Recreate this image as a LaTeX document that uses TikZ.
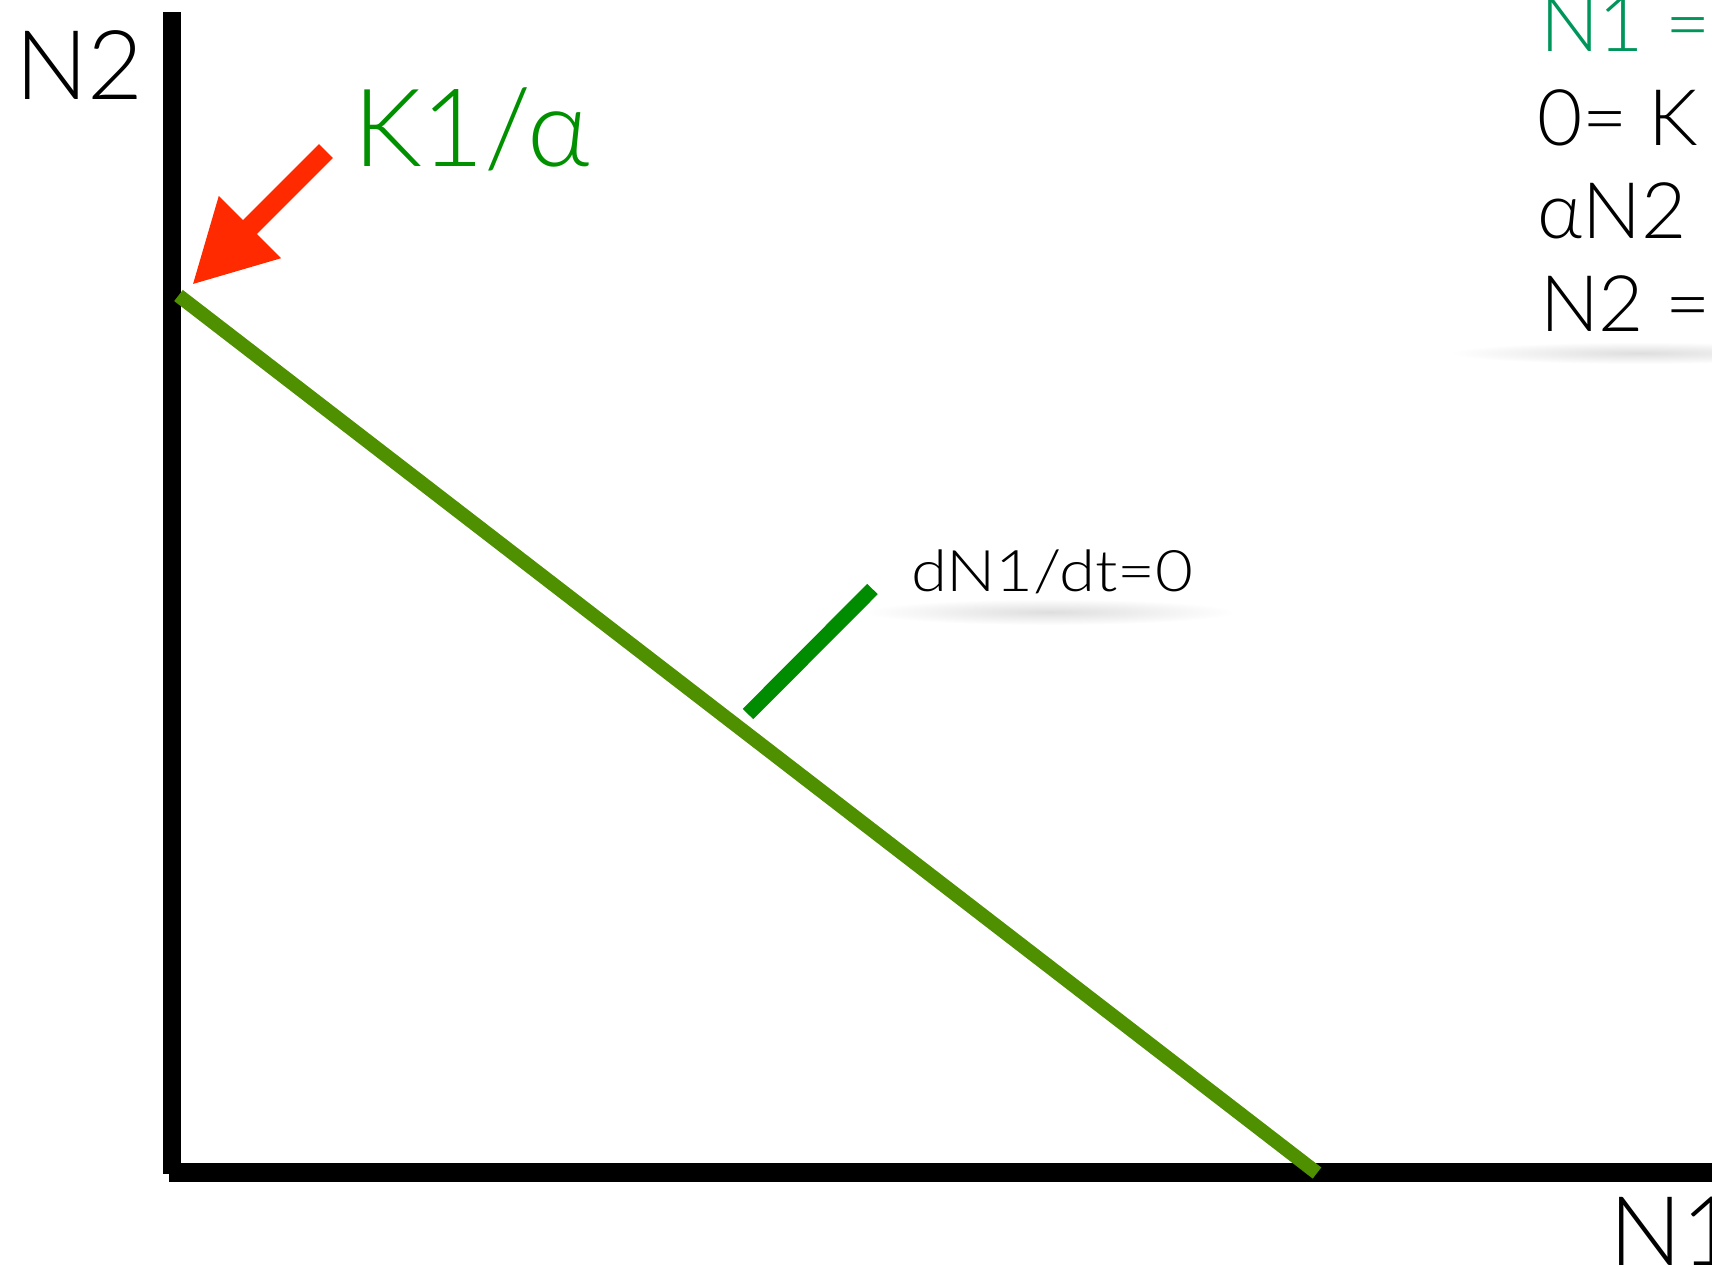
\documentclass[tikz,border=0pt]{standalone}
\usepackage{fontspec}
\setmainfont{Lato}[UprightFont={* Light}]
\usetikzlibrary{arrows.meta}

\definecolor{axisblack}{HTML}{000000}
\definecolor{clinegreen}{HTML}{4E9000}
\definecolor{tickgreen}{HTML}{008C00}
\definecolor{labelgreen}{HTML}{009000}
\definecolor{eqgreen}{HTML}{00955A}
\definecolor{pointred}{HTML}{FF2A00}

\begin{document}
\begin{tikzpicture}[
    x=0.01cm, y=-0.01cm,
    % All text labels sit on their baseline
    lbl/.style={anchor=base west, inner sep=0pt, outer sep=0pt},
    axlbl/.style={lbl, font=\fontsize{27.4pt}{30pt}\selectfont},
    keylbl/.style={lbl, font=\fontsize{30.8pt}{34pt}\selectfont, text=labelgreen},
    linelbl/.style={lbl, font=\fontsize{16.3pt}{19pt}\selectfont\addfontfeatures{FakeStretch=1.14}},
    eqlbl/.style={lbl, font=\fontsize{22.2pt}{26pt}\selectfont},
    % Lines
    axis/.style={draw=axisblack, line width=5.2pt},
    isocline/.style={draw=clinegreen, line width=4.0pt},
    tick/.style={draw=tickgreen, line width=4.2pt},
    pointer/.style={draw=pointred, fill=pointred, line width=5.6pt,
                    -{Triangle[length=23.3pt, width=23.3pt]}},
    % Soft shadow under a text block
    glow/.style={inner color=black!13, outer color=white},
]

% Canvas 1712 x 1266 px, 1 unit = 1 px, y grows downwards
\useasboundingbox (0,0) rectangle (1712,1266);

%% ── Axes ──
\coordinate (ytop)   at (172, 12);
\coordinate (ybot)   at (172, 1174);
\coordinate (xleft)  at (169, 1172.5);
\coordinate (xright) at (1712, 1172.5);
\draw[axis] (ytop) -- (ybot);
\draw[axis] (xleft) -- (xright);

\node[axlbl] (n2) at (15, 99.3)   {N2};
\node[axlbl] (n1) at (1609, 1265) {N1};

%% ── Isocline dN1/dt = 0 ──
\coordinate (kalpha) at (178.5, 295.5);
\coordinate (kone)   at (1317, 1173);
\draw[isocline] (kalpha) -- (kone);

%% ── Isocline label and its tick ──
\shade[glow] (1050, 612) ellipse [x radius=185, y radius=13];
\node[linelbl] (iso) at (911, 591.7) {dN1/dt=0};
\coordinate (tickfoot) at (748, 714);
\coordinate (tickhead) at (872.5, 589);
\draw[tick] (tickfoot) -- (tickhead);

%% ── Intercept K1/alpha ──
\node[keylbl] (klbl) at (353, 166) {K1/α};
\coordinate (arrtail) at (326, 151);
\coordinate (arrtip)  at (192, 285);
\draw[pointer] (arrtail) -- (arrtip);

%% ── Working, cut off by the right edge ──
\shade[glow] (1640, 353) ellipse [x radius=190, y radius=11];
\node[eqlbl, text=eqgreen] (eq1) at (1540, 51.7)  {N1 =};
\node[eqlbl]               (eq2) at (1537, 145)   {0= K};
\node[eqlbl]               (eq3) at (1537, 238)   {αN2 =};
\node[eqlbl]               (eq4) at (1540, 331.7) {N2 =};

\end{tikzpicture}
\end{document}
